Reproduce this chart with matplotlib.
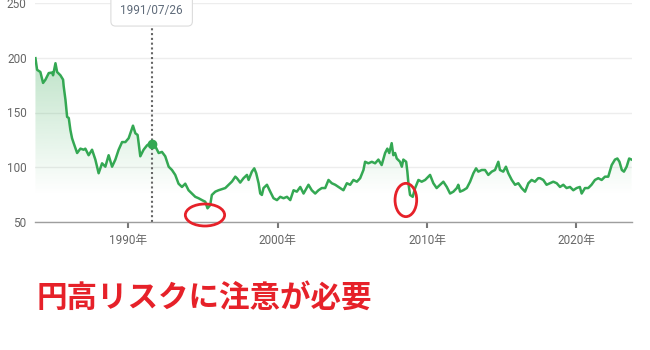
import matplotlib
matplotlib.use("Agg")
import matplotlib.pyplot as plt
import numpy as np
from matplotlib.patches import Ellipse

plt.rcParams['font.family'] = ['Roboto', 'Noto Sans CJK JP', 'DejaVu Sans']

# values (decimal years, index level)
years = [1983.78, 1983.89, 1984.11, 1984.29, 1984.45, 1984.67, 1984.90, 1984.96, 1985.12, 1985.23,
         1985.45, 1985.63, 1985.67, 1985.79, 1985.90, 1986.01, 1986.12, 1986.23, 1986.34, 1986.57,
         1986.79, 1987.01, 1987.12, 1987.34, 1987.57, 1987.79, 1988.01, 1988.24, 1988.46, 1988.68,
         1988.91, 1989.13, 1989.35, 1989.58, 1989.80, 1990.02, 1990.31, 1990.47, 1990.62, 1990.80,
         1991.02, 1991.25, 1991.47, 1991.56, 1991.81, 1992.03, 1992.25, 1992.47, 1992.70, 1992.92,
         1993.14, 1993.36, 1993.59, 1993.81, 1994.03, 1994.26, 1994.48, 1994.70, 1994.93, 1995.15,
         1995.30, 1995.48, 1995.59, 1995.82, 1996.04, 1996.27, 1996.49, 1996.71, 1996.94, 1997.16,
         1997.27, 1997.49, 1997.71, 1997.94, 1998.05, 1998.27, 1998.43, 1998.56, 1998.72, 1998.83,
         1998.94, 1999.05, 1999.28, 1999.50, 1999.72, 1999.95, 2000.17, 2000.39, 2000.62, 2000.84,
         2001.06, 2001.28, 2001.51, 2001.73, 2002.06, 2002.28, 2002.51, 2002.73, 2002.95, 2003.18,
         2003.40, 2003.62, 2003.85, 2004.07, 2004.18, 2004.40, 2004.63, 2004.85, 2005.07, 2005.30,
         2005.52, 2005.74, 2005.85, 2006.07, 2006.30, 2006.52, 2006.74, 2006.96, 2007.19, 2007.34,
         2007.47, 2007.63, 2007.74, 2007.86, 2007.97, 2008.19, 2008.31, 2008.41, 2008.60, 2008.68,
         2008.75, 2008.86, 2009.04, 2009.20, 2009.42, 2009.64, 2009.87, 2010.09, 2010.20, 2010.42,
         2010.64, 2010.87, 2011.09, 2011.32, 2011.54, 2011.76, 2011.99, 2012.09, 2012.21, 2012.43,
         2012.66, 2012.88, 2013.10, 2013.28, 2013.43, 2013.66, 2013.88, 2014.10, 2014.33, 2014.55,
         2014.77, 2014.88, 2015.10, 2015.28, 2015.44, 2015.67, 2015.89, 2016.11, 2016.33, 2016.56,
         2016.78, 2017.00, 2017.22, 2017.44, 2017.56, 2017.78, 2018.00, 2018.23, 2018.45, 2018.68,
         2018.90, 2019.12, 2019.34, 2019.57, 2019.79, 2020.01, 2020.23, 2020.35, 2020.57, 2020.79,
         2021.01, 2021.24, 2021.46, 2021.69, 2021.91, 2022.13, 2022.36, 2022.58, 2022.74, 2022.88,
         2023.04, 2023.18, 2023.36, 2023.53, 2023.69]

rates = [199.6, 189, 187, 177, 180, 186, 186.5, 184, 195, 187,
         184, 180, 174, 161.5, 146, 145, 134, 126.5, 122, 113,
         117, 116, 117, 111, 116, 107, 94.5, 103.6, 100.5, 111,
         100.5, 107, 116, 123, 123, 126.5, 138, 131, 129.5, 110,
         116, 120, 122, 121, 119, 113, 114, 110, 100.5, 97.5,
         93, 85, 82, 85, 79, 76, 73, 71.7, 70, 68.5,
         62.5, 65.5, 74.7, 77.7, 79, 80, 81, 84, 87, 91.4,
         90, 86, 90, 93, 88.4, 96, 99, 94.5, 85.4, 76,
         74.7, 81, 84, 77.7, 71.7, 70, 73, 71.7, 73, 70,
         79, 77.7, 82, 76, 84, 79, 76, 79, 81, 81,
         88.4, 85.4, 84, 82, 81, 79, 85.4, 84, 88.4, 86.8,
         90, 97.5, 105, 103.6, 105, 103.6, 107, 102, 113, 117,
         113, 122, 111, 113, 108, 105, 100.5, 107, 105, 96,
         85.4, 74.7, 73, 81, 88.4, 86.8, 88.4, 91.4, 93, 85.4,
         81, 84, 86.8, 82, 76, 77.7, 81, 84, 77.7, 79,
         81, 86.8, 94.5, 99, 96, 97.5, 97.5, 93, 96, 97.5,
         105, 97.5, 96, 100.5, 94.5, 88.4, 84, 85.4, 81, 77.7,
         85.4, 88.4, 86.8, 90, 90, 88.4, 84, 85.4, 86.8, 85.4,
         82, 84, 81, 82, 79, 81, 82, 76, 81, 81,
         84, 88.4, 90, 88.4, 91.4, 91.4, 102, 107, 108, 105,
         97.5, 96, 100.5, 108, 107]

y_ticks = [50, 100, 150, 200, 250]
x_ticks = [1990, 2000, 2010, 2020]
x_labels = ['1990年', '2000年', '2010年', '2020年']

hover_year = 1991.56
hover_label = '1991/07/26'

# (center year, center value, width in years, height in value)
circles = [(1995.13, 56.4, 2.63, 20.1), (2008.58, 70.1, 1.45, 30.4)]

message = '円高リスクに注意が必要'

green = '#34a853'
red = '#e62129'

fig = plt.figure(figsize=(6.5, 3.5), dpi=100)
ax = fig.add_axes([35 / 650, 1 - 222 / 350, 597 / 650, 219 / 350])

ax.plot(years, rates, color=green, lw=1.8, zorder=3, solid_joinstyle='round')

# gradient fill under the line
poly = ax.fill_between(years, rates, 50, facecolor='none', edgecolor='none')
vals = np.linspace(50, 250, 256)
alpha = np.clip((vals - 75) / 125, 0, 1) * 0.32
img = np.zeros((256, 1, 4))
img[:, 0, 0] = 0x34 / 255
img[:, 0, 1] = 0xa8 / 255
img[:, 0, 2] = 0x53 / 255
img[:, 0, 3] = alpha
im = ax.imshow(img, extent=[years[0], years[-1], 50, 250], origin='lower',
               aspect='auto', zorder=1, interpolation='bilinear')
im.set_clip_path(poly.get_paths()[0], transform=ax.transData)

ax.set_xlim(years[0] - 0.03, years[-1] + 0.03)
ax.set_ylim(50, 250)

ax.set_yticks(y_ticks)
ax.yaxis.grid(True, color='#ededed', lw=1)
ax.set_axisbelow(True)
ax.tick_params(axis='y', length=0, pad=6, labelsize=8.5, labelcolor='#666666')

ax.set_xticks(x_ticks)
ax.set_xticklabels(x_labels)
ax.tick_params(axis='x', length=4, width=1.5, color='#777777', pad=5,
               labelsize=8.5, labelcolor='#666666')

for s in ['top', 'right', 'left']:
    ax.spines[s].set_visible(False)
ax.spines['bottom'].set_color('#9e9e9e')
ax.spines['bottom'].set_linewidth(1)

# hover line, dot and date box
hover_val = np.interp(hover_year, years, rates)
ax.plot([hover_year, hover_year], [50, 232.8], color='#666666', lw=1.5,
        linestyle=(0, (1, 1.3)), zorder=2, clip_on=False)
ax.plot(hover_year, hover_val, 'o', color=green, ms=6, zorder=4)
ax.text(hover_year, 243.5, hover_label, ha='center', va='center', fontsize=8.5,
        color='#5f6b7a', zorder=6, clip_on=False,
        bbox=dict(boxstyle='round,pad=0.8,rounding_size=0.4', fc='white',
                  ec='#dcdcdc', lw=0.8))

for cx, cy, w, h in circles:
    ax.add_patch(Ellipse((cx, cy), w, h, fill=False, ec=red, lw=2,
                         zorder=5, clip_on=False))

fig.text(37 / 650, 1 - 298 / 350, message, fontsize=22, fontweight='bold',
         color=red, va='center', ha='left', family=['Noto Sans CJK JP'])

fig.savefig('out.png', dpi=100)
